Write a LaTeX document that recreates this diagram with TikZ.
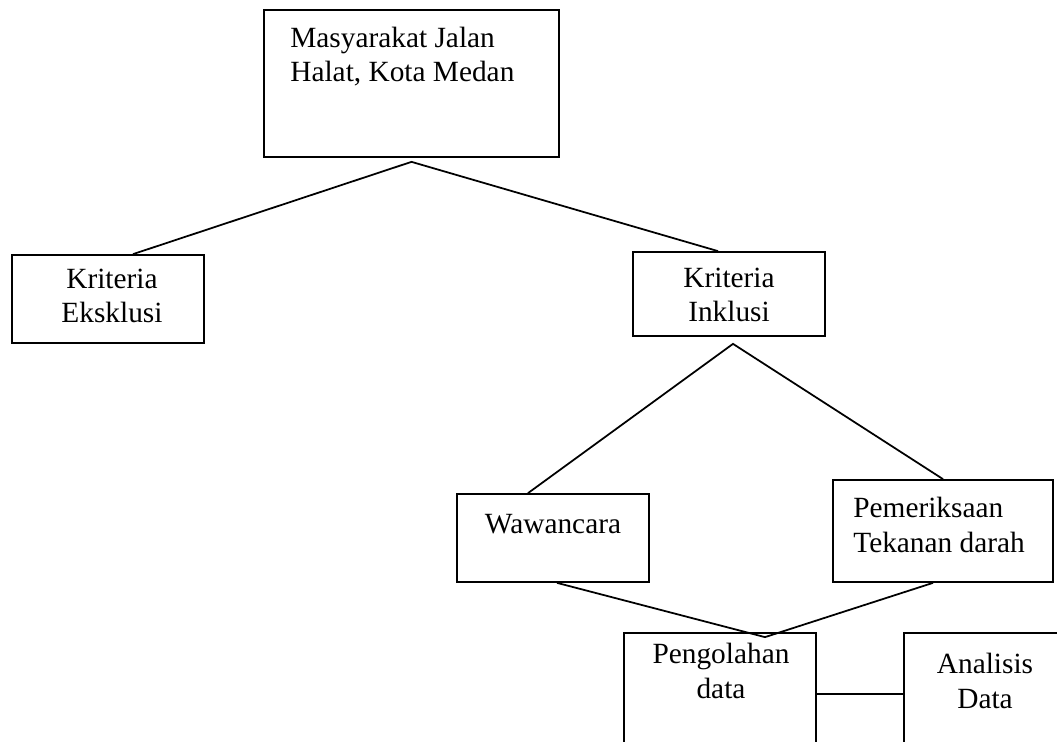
\documentclass[tikz,border=0pt]{standalone}
\usepackage{fontspec}
\setmainfont{Liberation Serif}
\usepackage{tikz}
\usetikzlibrary{positioning, calc}

\begin{document}
\begin{tikzpicture}[x=0.02cm, y=-0.02cm,
  box/.style={draw, line width=1pt, inner sep=0pt},
  txt/.style={inner sep=0pt, font=\fontsize{16.7}{19.8}\selectfont},
  link/.style={line width=1pt}]
  % Page frame (lower boxes run off the edge)
  \useasboundingbox (0,0) rectangle (1057,742);
  \clip (0,0) rectangle (1057,742);

  % Boxes
  \node[box, minimum width=5.9cm, minimum height=2.94cm] (masy) at (411.5,83.5) {};
  \node[box, minimum width=3.84cm, minimum height=1.76cm] (eks) at (108,299) {};
  \node[box, minimum width=3.84cm, minimum height=1.68cm] (ink) at (729,294) {};
  \node[box, minimum width=3.84cm, minimum height=1.76cm] (waw) at (553,538) {};
  \node[box, minimum width=4.4cm, minimum height=2.04cm] (per) at (943,531) {};
  \node[box, minimum width=3.84cm, minimum height=2.44cm] (olah) at (720,694) {};
  \node[box, minimum width=4cm, minimum height=2.44cm] (ana) at (1004,694) {};

  % Texts (base = baseline of the last line)
  \node[txt, anchor=base west, align=left] (masy-t) at (290,82) {Masyarakat Jalan\\Halat, Kota Medan};
  \node[txt, anchor=base, align=center] (eks-t) at (112,323) {Kriteria\\Eksklusi};
  \node[txt, anchor=base, align=center] (ink-t) at (729,322) {Kriteria\\Inklusi};
  \node[txt, anchor=base] (waw-t) at (553,533) {Wawancara};
  \node[txt, anchor=base west, align=left] (per-t) at (853,552) {Pemeriksaan\\Tekanan darah};
  \node[txt, anchor=base, align=center] (olah-t) at (721,698) {Pengolahan\\data};
  \node[txt, anchor=base, align=center] (ana-t) at (985,708) {Analisis\\Data};

  % Branch points
  \coordinate (top) at ($(masy.south)+(0,4)$);
  \coordinate (split) at ($(ink.south)+(4,7)$);
  \coordinate (merge) at ($(olah.north)+(45,5)$);

  % Connectors
  \draw[link] ($(eks.north)+(25,0)$) -- (top) -- ($(ink.north)+(-11,0)$);
  \draw[link] ($(waw.north)+(-25,0)$) -- (split) -- (per.north);
  \draw[link] ($(waw.south)+(4,0)$) -- (merge) -- ($(per.south)+(-10,0)$);
  \draw[link] (olah.east) -- (ana.west);
\end{tikzpicture}
\end{document}
